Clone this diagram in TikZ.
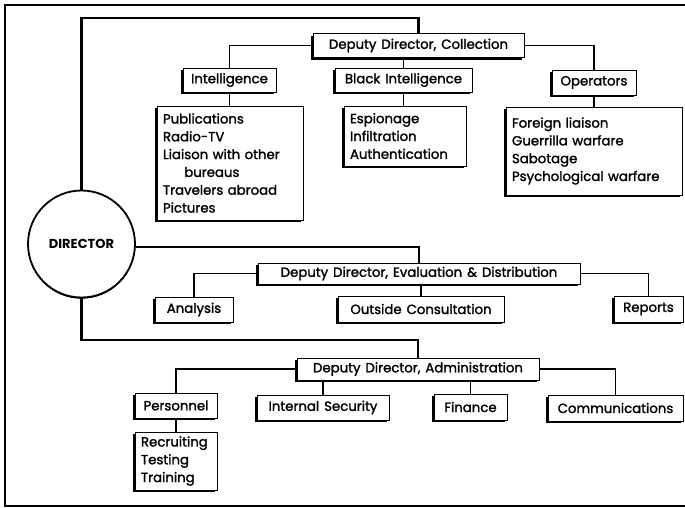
\documentclass[tikz,border=0pt]{standalone}
\usepackage{fontspec}
\setmainfont{Poppins}[FakeBold=1.6, WordSpace=1.4]
\newfontfamily\dirfont{Poppins}[WordSpace=1.4]
\usetikzlibrary{shadows}
\begin{document}
\begin{tikzpicture}[x=1pt,y=-1pt,
  box/.style={draw, line width=1pt, fill=white, inner sep=0pt,
    general shadow={fill=black, shadow xshift=-2.4pt, shadow yshift=-2.4pt},
    font=\fontsize{13.3}{15}\selectfont},
  listbox/.style={box, align=left, inner xsep=6pt, font=\fontsize{13.3}{17.8}\selectfont},
  trunk/.style={line width=2.4pt},
  branch/.style={line width=1.5pt}]
\useasboundingbox (0,0) rectangle (685,507);
\draw[line width=1.2pt] (5,5) rectangle (692,506);

% Director
\node[circle, draw, line width=1.8pt, fill=white, minimum size=107, inner sep=0pt,
  general shadow={fill=black, shadow xshift=0pt, shadow yshift=-1.2pt},
  font=\dirfont\fontsize{13}{15}\selectfont\bfseries] (dir) at (81.5,244) {DIRECTOR};

% Collection
\node[box, minimum width=211, minimum height=24] (ddc) at (418.5,45.5) {Deputy Director, Collection};
\node[box, minimum width=93, minimum height=24] (intel) at (229.5,80) {Intelligence};
\node[box, minimum width=137, minimum height=24] (black) at (403.5,80) {Black Intelligence};
\node[box, minimum width=84, minimum height=25] (oper) at (594,82.5) {Operators};
\node[listbox, text width=134pt, minimum height=114] (intelsub) at (230,163)
  {Publications\\Radio-TV\\Liaison with other\\\hspace*{1.6em}bureaus\\Travelers abroad\\Pictures};
\node[listbox, text width=110pt, minimum height=60] (blacksub) at (405,136)
  {Espionage\\Infiltration\\Authentication};
\node[listbox, text width=164pt, minimum height=88] (opersub) at (594,151)
  {Foreign liaison\\Guerrilla warfare\\Sabotage\\Psychological warfare};

% Evaluation
\node[box, minimum width=322, minimum height=21] (dde) at (419,273.5) {Deputy Director, Evaluation \& Distribution};
\node[box, minimum width=78, minimum height=25] (analysis) at (194,309.5) {Analysis};
\node[box, minimum width=166, minimum height=26] (outside) at (421,309) {Outside Consultation};
\node[box, minimum width=69, minimum height=26] (reports) at (648.5,309) {Reports};

% Administration
\node[box, minimum width=242, minimum height=22] (dda) at (418,369) {Deputy Director, Administration};
\node[box, minimum width=82, minimum height=25] (personnel) at (176,405.5) {Personnel};
\node[listbox, text width=70pt, minimum height=58] (recruit) at (176,461)
  {Recruiting\\Testing\\Training};
\node[box, minimum width=132, minimum height=25] (intsec) at (323,407.5) {Internal Security};
\node[box, minimum width=73, minimum height=26] (finance) at (470.5,407) {Finance};
\node[box, minimum width=135, minimum height=26] (comms) at (615.5,408) {Communications};

% trunks
\coordinate (t1) at (81.5,18);
\coordinate (t3) at (81.5,340);
\draw[trunk] (dir.north) -- (t1) -| (ddc.north);
\draw[trunk] (dir.-3) -| (dde.north);
\draw[trunk] (dir.south) -- (t3) -| (dda.north);

% branches
\draw[branch] (ddc.west) -| (intel.north);
\draw[branch] (black.north) -- (black.north |- ddc.south);
\draw[branch] (ddc.east) -| (oper.north);
\draw[branch] (intel.south) -- (intelsub.north -| intel.south);
\draw[branch] (black.south) -- (blacksub.north -| black.south);
\draw[branch] (oper.south) -- (opersub.north -| oper.south);
\draw[branch] (dde.west) -| (analysis.north);
\draw[branch] (outside.north) -- (outside.north |- dde.south);
\draw[branch] (dde.east) -| (reports.north);
\draw[branch] (dda.west) -| (personnel.north);
\draw[branch] (intsec.north) -- (intsec.north |- dda.south);
\draw[branch] (finance.north) -- (finance.north |- dda.south);
\draw[branch] (dda.east) -| (comms.north);
\draw[branch] (personnel.south) -- (recruit.north);
\end{tikzpicture}
\end{document}
